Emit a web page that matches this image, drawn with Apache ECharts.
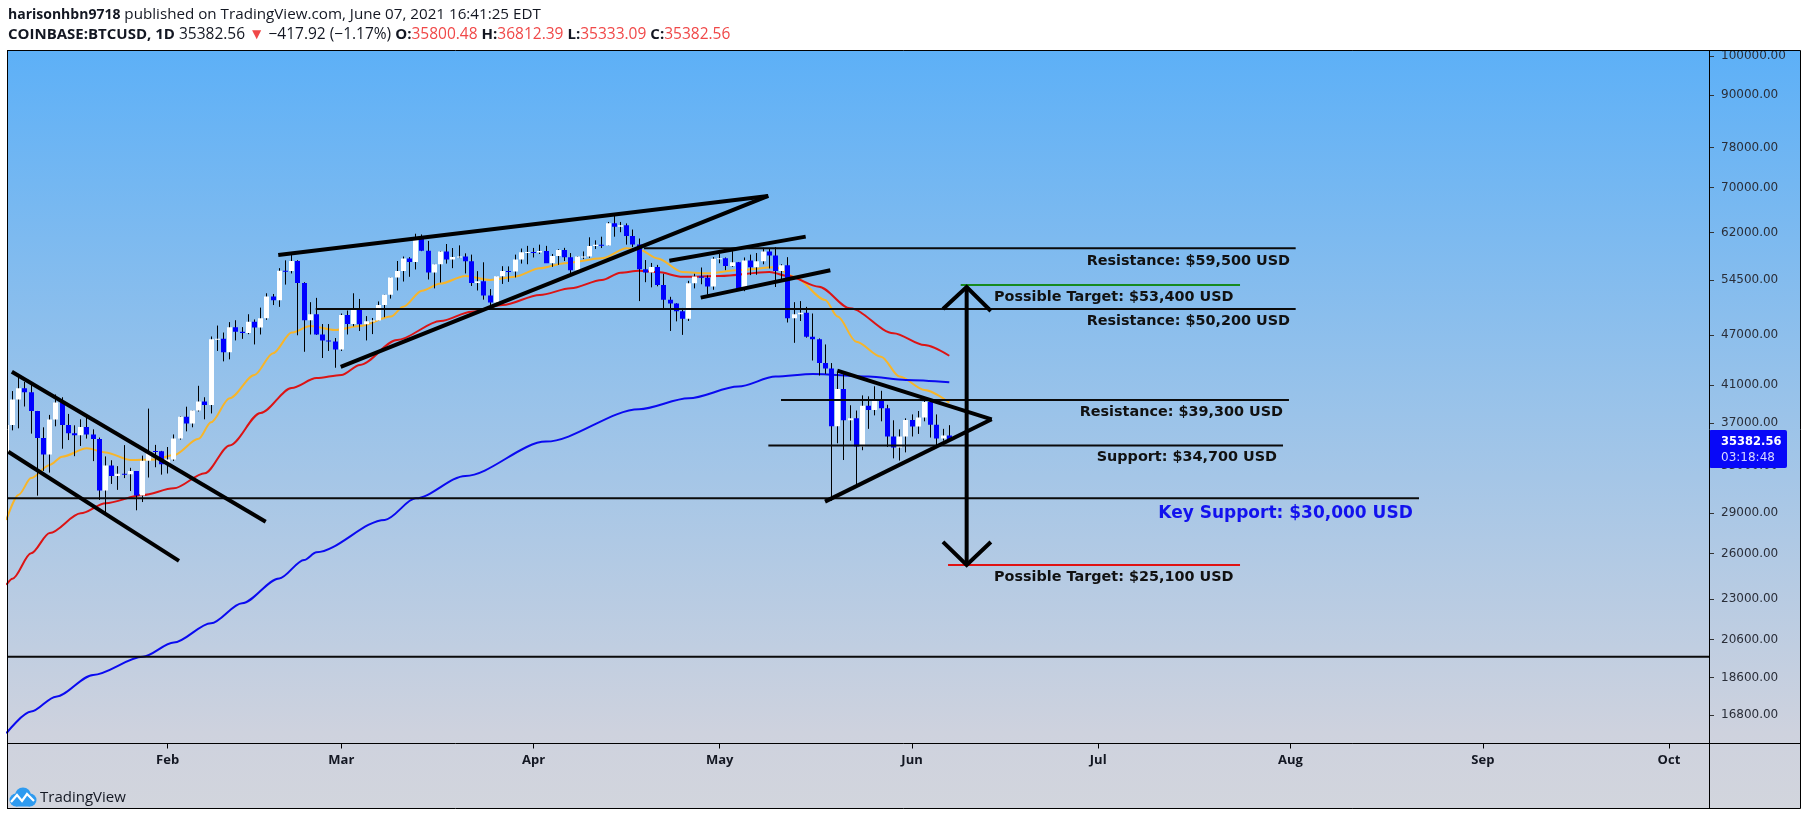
<!DOCTYPE html>
<html>
<head>
    <meta charset="UTF-8">
    <title>COINBASE:BTCUSD, 1D</title>
    <script src="https://cdn.jsdelivr.net/npm/echarts@6.0.0/dist/echarts.min.js"></script>
    <style>
        html, body { margin: 0; padding: 0; background: #fff; }
        #main { width: 1808px; height: 820px; }
    </style>
</head>
<body>
<div id="main"></div>
<script type="text/javascript">
    // daily candles: date, open, high, low, close
    var candles = [
        ['2021-01-06', 34040, 36940, 33290, 36830], ['2021-01-07', 36830, 40370, 36300, 39460],
        ['2021-01-08', 39460, 41950, 36500, 40670], ['2021-01-09', 40670, 41380, 38720, 40240],
        ['2021-01-10', 40240, 41360, 35980, 38240], ['2021-01-11', 38240, 38260, 30420, 35550],
        ['2021-01-12', 35550, 36600, 32530, 34010], ['2021-01-13', 34010, 37850, 32380, 37390],
        ['2021-01-14', 37390, 40000, 36700, 39150], ['2021-01-15', 39150, 39700, 34540, 36830],
        ['2021-01-16', 36830, 37950, 35360, 36020], ['2021-01-17', 36020, 36800, 33850, 35820],
        ['2021-01-18', 35820, 37400, 34800, 36630], ['2021-01-19', 36630, 37850, 35500, 35900],
        ['2021-01-20', 35900, 36400, 33400, 35470], ['2021-01-21', 35470, 35600, 30070, 30850],
        ['2021-01-22', 30850, 33830, 28800, 33000], ['2021-01-23', 33000, 33480, 31400, 32090],
        ['2021-01-24', 32090, 32950, 30900, 32270], ['2021-01-25', 32270, 34880, 31900, 32230],
        ['2021-01-26', 32230, 32800, 30800, 32510], ['2021-01-27', 32510, 32520, 29240, 30430],
        ['2021-01-28', 30430, 33900, 29900, 33430], ['2021-01-29', 33430, 38500, 31950, 34320],
        ['2021-01-30', 34320, 34900, 32850, 34300], ['2021-01-31', 34300, 34340, 32200, 33110],
        ['2021-02-01', 33110, 34700, 32300, 33540], ['2021-02-02', 33540, 35900, 33420, 35520],
        ['2021-02-03', 35520, 37700, 35400, 37670], ['2021-02-04', 37670, 38700, 36200, 36990],
        ['2021-02-05', 36990, 38300, 36600, 38300], ['2021-02-06', 38300, 40950, 38200, 39250],
        ['2021-02-07', 39250, 39700, 37400, 38870], ['2021-02-08', 38870, 46800, 38000, 46450],
        ['2021-02-09', 46450, 48200, 45000, 46510], ['2021-02-10', 46510, 47300, 43750, 44840],
        ['2021-02-11', 44840, 48650, 43990, 47990], ['2021-02-12', 47990, 48900, 46300, 47400],
        ['2021-02-13', 47400, 48000, 46500, 47230], ['2021-02-14', 47230, 49700, 47090, 48700],
        ['2021-02-15', 48700, 49000, 45800, 47950], ['2021-02-16', 47950, 50600, 47050, 49150],
        ['2021-02-17', 49150, 52600, 48950, 52150], ['2021-02-18', 52150, 52500, 50950, 51600],
        ['2021-02-19', 51600, 56300, 50700, 55900], ['2021-02-20', 55900, 57500, 53850, 55880],
        ['2021-02-21', 55880, 58350, 55500, 57400], ['2021-02-22', 57400, 57520, 46950, 54100],
        ['2021-02-23', 54100, 54200, 44900, 48890], ['2021-02-24', 48890, 51350, 47050, 49700],
        ['2021-02-25', 49700, 51950, 47000, 47050], ['2021-02-26', 47050, 48400, 44150, 46300],
        ['2021-02-27', 46300, 48400, 45000, 46170], ['2021-02-28', 46170, 46600, 43000, 45190],
        ['2021-03-01', 45190, 49800, 45000, 49600], ['2021-03-02', 49600, 50200, 47050, 48400],
        ['2021-03-03', 48400, 52600, 48100, 50350], ['2021-03-04', 50350, 51800, 47500, 48370],
        ['2021-03-05', 48370, 49450, 46300, 48760], ['2021-03-06', 48760, 49200, 47100, 48880],
        ['2021-03-07', 48880, 51450, 48880, 50970], ['2021-03-08', 50970, 52400, 49300, 52390],
        ['2021-03-09', 52390, 54900, 51850, 54880], ['2021-03-10', 54880, 57400, 53000, 55860],
        ['2021-03-11', 55860, 58100, 54300, 57800], ['2021-03-12', 57800, 58000, 55000, 57230],
        ['2021-03-13', 57230, 61800, 56100, 61180], ['2021-03-14', 61180, 61680, 58950, 59000],
        ['2021-03-15', 59000, 60600, 54600, 55650], ['2021-03-16', 55650, 56950, 53300, 56900],
        ['2021-03-17', 56900, 58980, 54150, 58910], ['2021-03-18', 58910, 60100, 57000, 57650],
        ['2021-03-19', 57650, 59450, 56300, 58040], ['2021-03-20', 58040, 59880, 57850, 58110],
        ['2021-03-21', 58110, 58600, 55500, 57350], ['2021-03-22', 57350, 58400, 53650, 54080],
        ['2021-03-23', 54080, 55850, 53000, 54340], ['2021-03-24', 54340, 57200, 51700, 52300],
        ['2021-03-25', 52300, 53200, 50400, 51300], ['2021-03-26', 51300, 55080, 51300, 55070],
        ['2021-03-27', 55070, 56600, 53950, 55860], ['2021-03-28', 55860, 56570, 54250, 55780],
        ['2021-03-29', 55780, 58400, 54900, 57620], ['2021-03-30', 57620, 59370, 57000, 58770],
        ['2021-03-31', 58770, 59800, 56900, 58800], ['2021-04-01', 58800, 59470, 57950, 58730],
        ['2021-04-02', 58730, 60000, 58500, 58980], ['2021-04-03', 58980, 59800, 57100, 57060],
        ['2021-04-04', 57060, 58500, 56500, 58200], ['2021-04-05', 58200, 59250, 56800, 59130],
        ['2021-04-06', 59130, 59480, 57400, 57990], ['2021-04-07', 57990, 58650, 55500, 56000],
        ['2021-04-08', 56000, 58150, 55700, 58090], ['2021-04-09', 58090, 58900, 57700, 58100],
        ['2021-04-10', 58100, 61200, 57900, 59770], ['2021-04-11', 59770, 60700, 59300, 59990],
        ['2021-04-12', 59990, 61300, 59450, 59850], ['2021-04-13', 59850, 63800, 59850, 63580],
        ['2021-04-14', 63580, 64900, 61300, 62960], ['2021-04-15', 62960, 63800, 62050, 63220],
        ['2021-04-16', 63220, 63550, 60000, 61400], ['2021-04-17', 61400, 62500, 59600, 60010],
        ['2021-04-18', 60010, 61000, 51500, 56150], ['2021-04-19', 56150, 57550, 54200, 55630],
        ['2021-04-20', 55630, 57100, 53450, 56480], ['2021-04-21', 56480, 56800, 53600, 53800],
        ['2021-04-22', 53800, 55450, 50500, 51700], ['2021-04-23', 51700, 52100, 47500, 51150],
        ['2021-04-24', 51150, 51200, 48750, 50100], ['2021-04-25', 50100, 50550, 47000, 49100],
        ['2021-04-26', 49100, 54400, 48800, 54040], ['2021-04-27', 54040, 55450, 53300, 55050],
        ['2021-04-28', 55050, 56400, 53900, 54860], ['2021-04-29', 54860, 55200, 52400, 53570],
        ['2021-04-30', 53570, 58000, 53100, 57750], ['2021-05-01', 57750, 58500, 57050, 57830],
        ['2021-05-02', 57830, 57950, 56000, 56620], ['2021-05-03', 56620, 58950, 56500, 57200],
        ['2021-05-04', 57200, 57250, 53050, 53240], ['2021-05-05', 53240, 57950, 52900, 57480],
        ['2021-05-06', 57480, 58400, 55250, 56430], ['2021-05-07', 56430, 58650, 55300, 57380],
        ['2021-05-08', 57380, 59500, 56900, 58880], ['2021-05-09', 58880, 59300, 56250, 58280],
        ['2021-05-10', 58280, 59600, 53500, 55850], ['2021-05-11', 55850, 56900, 54400, 56750],
        ['2021-05-12', 56750, 58000, 48600, 49150], ['2021-05-13', 49150, 51350, 46000, 49700],
        ['2021-05-14', 49700, 51500, 48800, 49900], ['2021-05-15', 49900, 50700, 46650, 46750],
        ['2021-05-16', 46750, 49800, 43850, 46450], ['2021-05-17', 46450, 46550, 42100, 43550],
        ['2021-05-18', 43550, 45800, 42300, 42900], ['2021-05-19', 42900, 43550, 30000, 36700],
        ['2021-05-20', 36700, 42500, 35050, 40600], ['2021-05-21', 40600, 42250, 33500, 37300],
        ['2021-05-22', 37300, 38850, 35300, 37500], ['2021-05-23', 37500, 38300, 31100, 34750],
        ['2021-05-24', 34750, 39900, 34400, 38800], ['2021-05-25', 38800, 39800, 36450, 38350],
        ['2021-05-26', 38350, 40900, 37800, 39300], ['2021-05-27', 39300, 40400, 37200, 38550],
        ['2021-05-28', 38550, 38900, 34700, 35700], ['2021-05-29', 35700, 37300, 33650, 34650],
        ['2021-05-30', 34650, 36400, 33450, 35700], ['2021-05-31', 35700, 37500, 34200, 37330],
        ['2021-06-01', 37330, 37900, 35700, 36690], ['2021-06-02', 36690, 38250, 35950, 37580],
        ['2021-06-03', 37580, 39500, 37200, 39200], ['2021-06-04', 39200, 39300, 35600, 36860],
        ['2021-06-05', 36860, 37900, 34800, 35520], ['2021-06-06', 35520, 36450, 35300, 35800.48],
        ['2021-06-07', 35800.48, 36812.39, 35333.09, 35382.56]
    ];

    // moving averages: date, value
    var maYellow = [
        ['2021-01-06', 28480], ['2021-01-08', 30500], ['2021-01-10', 31900], ['2021-01-13', 33060],
        ['2021-01-15', 33800], ['2021-01-19', 34580], ['2021-01-22', 34200], ['2021-01-26', 33510],
        ['2021-01-30', 33550], ['2021-02-02', 33950], ['2021-02-06', 35480], ['2021-02-08', 37100],
        ['2021-02-11', 39600], ['2021-02-15', 42170], ['2021-02-18', 44720], ['2021-02-21', 47300],
        ['2021-02-24', 48140], ['2021-02-28', 47620], ['2021-03-04', 48140], ['2021-03-09', 49380],
        ['2021-03-11', 50730], ['2021-03-14', 52970], ['2021-03-17', 54000], ['2021-03-21', 55120],
        ['2021-03-25', 54530], ['2021-03-29', 55020], ['2021-04-02', 56280], ['2021-04-06', 57050],
        ['2021-04-12', 57820], ['2021-04-16', 59400], ['2021-04-18', 59200], ['2021-04-21', 57800],
        ['2021-04-25', 55700], ['2021-04-29', 55530], ['2021-05-04', 56010], ['2021-05-10', 56430],
        ['2021-05-13', 55020], ['2021-05-18', 51660], ['2021-05-20', 49380], ['2021-05-23', 46140],
        ['2021-05-27', 44310], ['2021-05-30', 41980], ['2021-06-03', 40500], ['2021-06-07', 39130]
    ];
    var maRed = [
        ['2021-01-06', 23900], ['2021-01-07', 24300], ['2021-01-10', 26030], ['2021-01-13', 27500],
        ['2021-01-18', 29000], ['2021-01-22', 29800], ['2021-01-28', 30470], ['2021-02-02', 31030],
        ['2021-02-07', 32320], ['2021-02-11', 34850], ['2021-02-16', 38050], ['2021-02-21', 40710],
        ['2021-02-25', 41810], ['2021-03-01', 42170], ['2021-03-04', 43330], ['2021-03-10', 46350],
        ['2021-03-17', 48800], ['2021-03-22', 50040], ['2021-03-27', 50950], ['2021-04-02', 52360],
        ['2021-04-07', 53310], ['2021-04-12', 54530], ['2021-04-15', 55620], ['2021-04-18', 55900],
        ['2021-04-21', 55700], ['2021-04-25', 55000], ['2021-05-01', 55120], ['2021-05-09', 55720],
        ['2021-05-12', 55120], ['2021-05-17', 53550], ['2021-05-22', 50500], ['2021-05-29', 47210],
        ['2021-06-03', 45730], ['2021-06-07', 44420]
    ];
    var maBlue = [
        ['2021-01-06', 15990], ['2021-01-10', 16960], ['2021-01-14', 17660], ['2021-01-20', 18730],
        ['2021-01-28', 19670], ['2021-02-02', 20440], ['2021-02-08', 21540], ['2021-02-13', 22740],
        ['2021-02-19', 24320], ['2021-02-23', 25560], ['2021-02-25', 26100], ['2021-03-08', 28490],
        ['2021-03-13', 30200], ['2021-03-21', 32090], ['2021-04-03', 35210], ['2021-04-18', 38430],
        ['2021-04-26', 39590], ['2021-05-04', 40860], ['2021-05-10', 41980], ['2021-05-16', 42280],
        ['2021-05-25', 41980], ['2021-05-31', 41600], ['2021-06-07', 41340]
    ];

    // drawings: [date, price] points
    var trendLines = [
        [['2021-01-06 21:30', 42540], ['2021-02-16 19:30', 28350]],
        [['2021-01-06 07:40', 34260], ['2021-02-02 20:00', 25500]],
        [['2021-02-18 20:00', 58340], ['2021-05-08 19:40', 68450]],
        [['2021-02-28 21:40', 43090], ['2021-05-08 19:40', 68450]],
        [['2021-04-22 21:00', 57450], ['2021-05-14 20:30', 61310]],
        [['2021-04-27 22:20', 51980], ['2021-05-18 19:40', 55980]],
        [['2021-05-19 22:50', 42660], ['2021-06-13 20:00', 37400]],
        [['2021-05-17 23:15', 29930], ['2021-06-13 20:00', 37400]]
    ];
    var levelLines = [
        [['2021-04-18 19:00', 59400], ['2021-08-01 20:00', 59400]],
        [['2021-02-24 21:00', 50400], ['2021-08-01 20:00', 50400]],
        [['2021-05-10 21:00', 39410], ['2021-07-31 18:00', 39410]],
        [['2021-05-08 20:00', 34850], ['2021-07-30 19:00', 34850]],
        [['2021-01-06 02:44', 30200], ['2021-08-21 17:00', 30200]],
        [['2021-01-06 02:44', 19670], ['2021-10-07 10:56', 19670]]
    ];
    var targetUp = [['2021-06-08 20:10', 53790], ['2021-07-23 20:40', 53790]];
    var targetDown = [['2021-06-06 19:10', 25220], ['2021-07-23 20:40', 25220]];
    var arrowLines = [
        [['2021-06-09 19:10', 53500], ['2021-06-09 19:10', 25220]],
        [['2021-06-05 23:30', 50420], ['2021-06-09 19:10', 53500], ['2021-06-13 16:50', 50140]],
        [['2021-06-05 23:30', 26840], ['2021-06-09 19:10', 25220], ['2021-06-13 16:50', 26840]]
    ];
    var levelNotes = [
        ['Resistance: $59,500 USD', '2021-07-31 22:00', 57400],
        ['Resistance: $50,200 USD', '2021-07-31 22:00', 48800],
        ['Resistance: $39,300 USD', '2021-07-30 19:00', 38080],
        ['Support: $34,700 USD', '2021-07-29 20:00', 33750]
    ];
    var targetNotes = [
        ['Possible Target: $53,400 USD', '2021-06-14 05:00', 52040],
        ['Possible Target: $25,100 USD', '2021-06-14 05:00', 24370]
    ];
    var keyNote = ['Key Support: $30,000 USD', '2021-08-20 17:00', 29000];

    var priceTicks = [16800, 18600, 20600, 23000, 26000, 29000, 33000, 37000, 41000,
        47000, 54500, 62000, 70000, 78000, 90000, 100000];
    var monthTicks = ['2021-02-01', '2021-03-01', '2021-04-01', '2021-05-01', '2021-06-01',
        '2021-07-01', '2021-08-01', '2021-09-01', '2021-10-01'];
    var monthNames = ['Jan', 'Feb', 'Mar', 'Apr', 'May', 'Jun', 'Jul', 'Aug', 'Sep', 'Oct', 'Nov', 'Dec'];
    var priceView = [15557, 101455];
    var timeView = ['2021-01-06 02:44', '2021-10-07 10:56'];
    var countdown = '03:18:48';

    function ts(s) {
        var p = s.split(/[- :]/).map(Number);
        return Date.UTC(p[0], p[1] - 1, p[2], p[3] || 0, p[4] || 0);
    }
    function lg(v) { return Math.log10(v); }
    function pt(p) { return [ts(p[0]), lg(p[1])]; }
    function seg(points) { return { coords: points.map(pt) }; }

    var last = candles[candles.length - 1];
    var prevClose = candles[candles.length - 2][4];
    var change = last[4] - prevClose;
    var changePct = change / prevClose * 100;
    function sgn(v) { return (v < 0 ? '\u2212' : '+') + Math.abs(v).toFixed(2); }

    var myChart = echarts.init(document.getElementById('main'));

    var FRAME = { left: 7, top: 50.5, right: 1800.5, bottom: 808.5, axisX: 1709.5, axisY: 743.5 };

    function frameLine(x1, y1, x2, y2) {
        return { type: 'line', z: 100, silent: true, shape: { x1: x1, y1: y1, x2: x2, y2: y2 },
            style: { stroke: '#000', lineWidth: 1 } };
    }

    var headBold = { fontFamily: 'Open Sans', fontSize: 14, fontWeight: 'bold', fill: '#131722' };
    var quoteBold = { fontFamily: 'Open Sans', fontSize: 15, fontWeight: 'bold', fill: '#131722' };
    var quoteRed = { fontFamily: 'Open Sans', fontSize: 15.5, fill: '#f04848' };

    var option = {
        animation: false,
        backgroundColor: '#fff',
        grid: { left: 7, right: 99, top: 50.5, bottom: 76.5, show: false },
        xAxis: {
            type: 'value',
            min: ts(timeView[0]),
            max: ts(timeView[1]),
            axisLine: { show: false },
            splitLine: { show: false },
            axisTick: { show: true, customValues: monthTicks.map(ts), length: 5, lineStyle: { color: '#000' } },
            axisLabel: {
                customValues: monthTicks.map(ts),
                formatter: function (v) { return monthNames[new Date(v).getUTCMonth()]; },
                color: '#131722', fontFamily: 'Open Sans', fontWeight: 'bold', fontSize: 13, margin: 10
            }
        },
        yAxis: {
            type: 'value',
            position: 'right',
            min: lg(priceView[0]),
            max: lg(priceView[1]),
            axisLine: { show: false },
            splitLine: { show: false },
            axisTick: { show: true, customValues: priceTicks.map(lg), length: 5, lineStyle: { color: '#333' } },
            axisLabel: {
                customValues: priceTicks.map(lg),
                formatter: function (v) { return Math.round(Math.pow(10, v)).toFixed(2); },
                color: '#2a2e39', fontFamily: 'DejaVu Sans', fontSize: 12, margin: 12
            }
        },
        graphic: [
            { type: 'rect', z: -10, silent: true,
                shape: { x: 7, y: 50.5, width: 1793.5, height: 758 },
                style: { fill: new echarts.graphic.LinearGradient(0, 0, 0, 1, [
                        { offset: 0, color: '#5db0f7' },
                        { offset: 0.45, color: '#97c2ea' },
                        { offset: 0.9, color: '#ced2de' },
                        { offset: 1, color: '#d2d5dd' }]) } },
            frameLine(FRAME.left, FRAME.top, FRAME.right, FRAME.top),
            frameLine(FRAME.left + 0.5, FRAME.top, FRAME.left + 0.5, FRAME.bottom),
            frameLine(FRAME.right, FRAME.top, FRAME.right, FRAME.bottom),
            frameLine(FRAME.left, FRAME.bottom, FRAME.right, FRAME.bottom),
            frameLine(FRAME.axisX, FRAME.top, FRAME.axisX, FRAME.bottom),
            frameLine(FRAME.left, FRAME.axisY, FRAME.right, FRAME.axisY),
            { type: 'text', x: 8, y: 15, silent: true,
                style: { text: '{b|harisonhbn9718} published on TradingView.com, June 07, 2021 16:41:25 EDT',
                    font: '15.2px "Open Sans"', fill: '#131722', verticalAlign: 'middle',
                    rich: { b: headBold } } },
            { type: 'text', x: 8, y: 35, silent: true,
                style: { text: '{b|COINBASE:BTCUSD, 1D} ' + last[4].toFixed(2) + ' {r|\u25BC} ' + sgn(change) +
                        ' (' + sgn(changePct) + '%) {b|O:}{r|' + last[1].toFixed(2) + '} {b|H:}{r|' + last[2].toFixed(2) +
                        '} {b|L:}{r|' + last[3].toFixed(2) + '} {b|C:}{r|' + last[4].toFixed(2) + '}',
                    font: '15.5px "Open Sans"', fill: '#131722', verticalAlign: 'middle',
                    rich: { b: quoteBold, r: quoteRed } } },
            { type: 'group', x: 8, y: 787, silent: true, children: [
                    { type: 'circle', shape: { cx: 8, cy: 13, r: 6.5 }, style: { fill: '#2e9bf0' } },
                    { type: 'circle', shape: { cx: 15, cy: 8.5, r: 8 }, style: { fill: '#2e9bf0' } },
                    { type: 'circle', shape: { cx: 22, cy: 13, r: 6.5 }, style: { fill: '#2e9bf0' } },
                    { type: 'rect', shape: { x: 8, y: 12, width: 14, height: 7.5 }, style: { fill: '#2e9bf0' } },
                    { type: 'polyline', shape: { points: [[3, 15], [9, 8], [14, 14], [19, 7], [26, 14]] },
                        style: { stroke: '#fff', lineWidth: 2.2, fill: null } }
                ] },
            { type: 'text', x: 40, y: 798, silent: true,
                style: { text: 'TradingView', font: '15px "Open Sans"', fill: '#131722', verticalAlign: 'middle' } }
        ],
        series: [
            {
                name: 'EMA 20', type: 'line', z: 2, showSymbol: false, smooth: 0.3, smoothMonotone: 'x',
                data: maYellow.map(pt), lineStyle: { color: '#f7b52a', width: 2 }, silent: true
            },
            {
                name: 'EMA 50', type: 'line', z: 2, showSymbol: false, smooth: 0.3, smoothMonotone: 'x',
                data: maRed.map(pt), lineStyle: { color: '#dc1414', width: 2 }, silent: true
            },
            {
                name: 'EMA 200', type: 'line', z: 2, showSymbol: false, smooth: 0.3, smoothMonotone: 'x',
                data: maBlue.map(pt), lineStyle: { color: '#0a0af0', width: 2 }, silent: true
            },
            {
                name: 'BTCUSD', type: 'custom', z: 3, clip: true, silent: true,
                data: candles.map(function (c) { return [ts(c[0]), lg(c[1]), lg(c[2]), lg(c[3]), lg(c[4])]; }),
                encode: { x: 0, y: [1, 2, 3, 4] },
                renderItem: function (params, api) {
                    var t = api.value(0);
                    var o = api.coord([t, api.value(1)]);
                    var h = api.coord([t, api.value(2)]);
                    var l = api.coord([t, api.value(3)]);
                    var c = api.coord([t, api.value(4)]);
                    var left = Math.round(o[0] - 2.5);
                    var mid = left + 2.5;
                    var top = Math.min(o[1], c[1]);
                    var bot = Math.max(o[1], c[1]);
                    var up = api.value(4) >= api.value(1);
                    return { type: 'group', children: [
                            { type: 'line', shape: { x1: mid, y1: h[1], x2: mid, y2: l[1] },
                                style: { stroke: '#000', lineWidth: 1 } },
                            { type: 'rect', shape: { x: left, y: top, width: 5, height: Math.max(1, bot - top) },
                                style: { fill: up ? '#ffffff' : '#0000ff' } }
                        ] };
                }
            },
            {
                type: 'lines', coordinateSystem: 'cartesian2d', polyline: true, z: 4, silent: true,
                data: levelLines.map(seg), lineStyle: { color: '#0a0a0a', width: 2, opacity: 1 }
            },
            {
                type: 'lines', coordinateSystem: 'cartesian2d', polyline: true, z: 4, silent: true,
                data: [seg(targetUp)], lineStyle: { color: '#178a1e', width: 2, opacity: 1 }
            },
            {
                type: 'lines', coordinateSystem: 'cartesian2d', polyline: true, z: 4, silent: true,
                data: [seg(targetDown)], lineStyle: { color: '#e01212', width: 2, opacity: 1 }
            },
            {
                type: 'lines', coordinateSystem: 'cartesian2d', polyline: true, z: 5, silent: true,
                data: trendLines.map(seg).concat(arrowLines.map(seg)),
                lineStyle: { color: '#000', width: 4, opacity: 1 }
            },
            {
                type: 'custom', z: 6, clip: false, silent: true,
                data: levelNotes.map(function (n) { return pt([n[1], n[2]]); })
                    .concat(targetNotes.map(function (n) { return pt([n[1], n[2]]); }))
                    .concat([pt([keyNote[1], keyNote[2]])]),
                renderItem: function (params, api) {
                    var p = api.coord([api.value(0), api.value(1)]);
                    var i = params.dataIndex;
                    var nL = levelNotes.length, nT = targetNotes.length;
                    var text, align = 'right', font = 'bold 14.4px "DejaVu Sans"', fill = '#111';
                    if (i < nL) {
                        text = levelNotes[i][0];
                    } else if (i < nL + nT) {
                        text = targetNotes[i - nL][0];
                        align = 'left';
                    } else {
                        text = keyNote[0];
                        font = 'bold 17px "DejaVu Sans"';
                        fill = '#1212ee';
                    }
                    return { type: 'text', x: p[0], y: p[1],
                        style: { text: text, font: font, fill: fill, align: align, verticalAlign: 'middle' } };
                }
            },
            {
                type: 'custom', z: 7, clip: false, silent: true,
                data: [[ts(last[0]), lg(last[4])]],
                renderItem: function (params, api) {
                    var y = api.coord([api.value(0), api.value(1)])[1];
                    var x0 = params.coordSys.x + params.coordSys.width;
                    return { type: 'group', children: [
                            { type: 'rect', shape: { x: x0, y: Math.round(y) - 10, width: 78, height: 38, r: 2 },
                                style: { fill: '#0808f8' } },
                            { type: 'text', x: x0 + 12, y: y + 2,
                                style: { text: last[4].toFixed(2), font: 'bold 11.5px "DejaVu Sans"', fill: '#fff',
                                    verticalAlign: 'middle' } },
                            { type: 'text', x: x0 + 12, y: y + 18.5,
                                style: { text: countdown, font: '12px "DejaVu Sans"', fill: '#d8d8ff',
                                    verticalAlign: 'middle' } }
                        ] };
                }
            }
        ]
    };

    myChart.setOption(option);
</script>
</body>
</html>
